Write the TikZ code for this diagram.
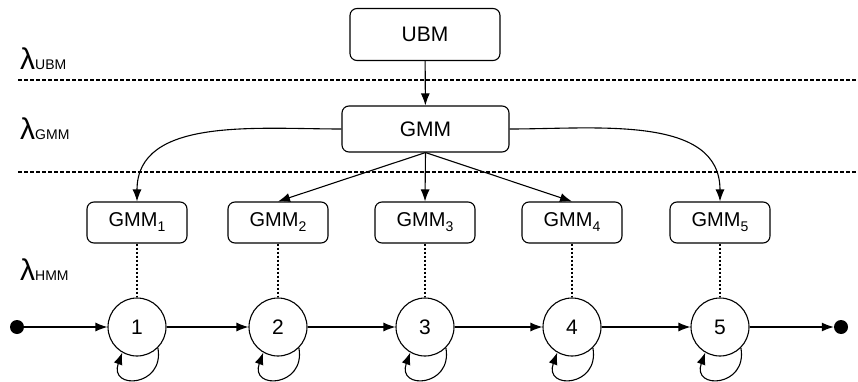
\documentclass[tikz,border=0pt]{standalone}
\usepackage{fontspec}
\setmainfont{Liberation Sans}
\usetikzlibrary{arrows.meta}

\tikzset{
    model/.style={draw, rounded corners=7pt, line width=1.1pt, minimum width=100pt, minimum height=41pt, inner sep=0pt, font=\fontsize{20}{24}\selectfont},
    state/.style={circle, draw, line width=1.1pt, minimum size=58pt, inner sep=0pt, font=\fontsize{21}{24}\selectfont},
    dot/.style={circle, fill, minimum size=14pt, inner sep=0pt},
    arr/.style={-{Latex[length=12pt,width=9pt]}, line width=1.1pt},
    sep/.style={dash pattern=on 4pt off 2pt, line width=1.1pt},
    link/.style={dash pattern=on 2pt off 2pt, line width=1.1pt},
    lam/.style={anchor=base west, inner sep=0pt}
}
\newcommand{\lab}[1]{{\fontsize{30}{30}\selectfont λ}{\fontsize{14}{14}\selectfont #1}}
\newcommand{\gsub}[1]{GMM{\fontsize{14}{14}\selectfont\raisebox{-5pt}{#1}}}

\begin{document}
\begin{tikzpicture}[x=1pt, y=1pt]
    \useasboundingbox (0,0) rectangle (858,-382);

    \node[model, minimum width=150pt, minimum height=52pt, font=\fontsize{21}{24}\selectfont] (ubm) at (425,-34.5) {UBM};
    \node[model, minimum width=167pt, minimum height=46pt, font=\fontsize{21}{24}\selectfont] (gmm) at (425.5,-129) {GMM};

    \node[lam] (lubm) at (20,-70) {\lab{UBM}};
    \node[lam] (lgmm) at (20,-140) {\lab{GMM}};
    \node[lam] (lhmm) at (20,-280) {\lab{HMM}};

    \coordinate (sepA) at (18,-80);
    \coordinate (sepAend) at (858,-80);
    \coordinate (sepB) at (18,-172);
    \coordinate (sepBend) at (858,-172);
    \draw[sep] (sepA) -- (sepAend);
    \draw[sep] (sepB) -- (sepBend);

    \node[dot] (start) at (17,-327) {};
    \node[dot] (stop) at (841,-327) {};

    \foreach \i/\x in {1/137, 2/278, 3/425, 4/572, 5/720} {
        \node[model] (g\i) at (\x,-222.5) {\gsub{\i}};
        \node[state] (c\i) at (\x,-327) {\i};
        \draw[link] (g\i) -- (c\i);
        % self loop, back into the state from below left
        \draw[arr] (c\i.-45) .. controls +(-80:40) and +(-110:40) .. (c\i.-120);
    }

    \draw[arr] (ubm) -- (gmm);
    \draw[arr] (gmm.west) to[out=180, in=90] (g1.north);
    \draw[arr] (gmm.south) -- (g2.north);
    \draw[arr] (gmm.south) -- (g3.north);
    \draw[arr] (gmm.south) -- (g4.north);
    \draw[arr] (gmm.east) to[out=0, in=90] (g5.north);

    \draw[arr] (start) -- (c1);
    \foreach \i/\j in {1/2, 2/3, 3/4, 4/5}
        \draw[arr] (c\i) -- (c\j);
    \draw[arr] (c5) -- (stop);
\end{tikzpicture}
\end{document}
